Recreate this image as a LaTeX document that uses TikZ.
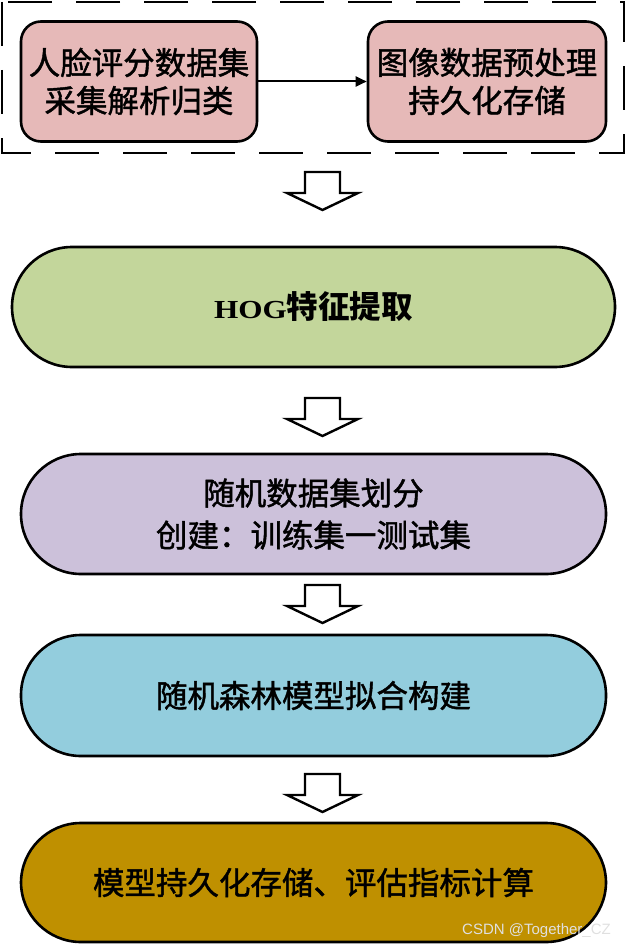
\documentclass[tikz,border=0pt]{standalone}
\usepackage{fontspec}
\setmainfont{Noto Sans CJK SC}
\newfontfamily\cjkmid{Noto Sans CJK SC}[FakeBold=1.4]
\newfontfamily\hogfont{Liberation Serif}[FakeStretch=1.2]
\newfontfamily\markfont{Liberation Sans}
\usetikzlibrary{arrows.meta}

\definecolor{pinkfill}{HTML}{E6B9B8}
\definecolor{greenfill}{HTML}{C3D69B}
\definecolor{purplefill}{HTML}{CCC1DA}
\definecolor{bluefill}{HTML}{93CDDD}
\definecolor{goldfill}{HTML}{BF9000}

\tikzset{
  databox/.style={draw, line width=2.6pt, rounded corners=20pt, fill=pinkfill,
    minimum width=236pt, minimum height=120pt, inner sep=0pt, align=center,
    font=\cjkmid\fontsize{31.5}{38}\selectfont},
  stagebox/.style={draw, line width=2.6pt, rounded corners=60pt,
    minimum width=585pt, minimum height=120pt, inner sep=0pt, align=center,
    font=\cjkmid\fontsize{31.5}{42}\selectfont},
  hollowarrow/.style={draw, line width=2.4pt, fill=white, line join=miter}
}

\begin{document}
\begin{tikzpicture}[x=1pt,y=-1pt]
\useasboundingbox (0,0) rectangle (626,947);

% Dashed frame round the two data steps
\draw [line width=2.6pt, dash pattern=on 44pt off 24pt] (2,2) rectangle (624,153);%

% Data steps
\node [databox] (collect) at (139,81.5) {人脸评分数据集\\采集解析归类};%
\node [databox, minimum width=238pt] (prep) at (487,81.5) {图像数据预处理\\持久化存储};%
\draw [line width=2pt, -{Triangle[length=11pt,width=10pt]}] (collect) -- (prep);%

% Stages
\node [stagebox, fill=greenfill, minimum width=603pt,
  font=\normalfont\bfseries\fontsize{31.5}{42}\selectfont] (hog) at (313.5,307)
  {{\hogfont\fontsize{26}{26}\selectfont HOG}特征提取};%
\node [stagebox, fill=purplefill] (split) at (313.5,514)
  {随机数据集划分\\创建：训练集一测试集};%
\node [stagebox, fill=bluefill, minimum height=121pt] (forest) at (313.5,695.5)
  {随机森林模型拟合构建};%
\node [stagebox, fill=goldfill, minimum height=119pt] (evalm) at (313.5,882.5)
  {模型持久化存储、评估指标计算};%

% Hollow arrows between the stages
\foreach \y in {172,398,585,774}
  \draw [hollowarrow] (305,\y) -- (340,\y) -- (340,\y+21) -- (358,\y+21)
    -- (322.5,\y+38) -- (287,\y+21) -- (305,\y+21) -- cycle;%

% Watermark
\node [anchor=base east, inner sep=0pt, text=white!88!black,
  font=\markfont\fontsize{15}{15}\selectfont] (mark) at (611,934) {CSDN @Together\_CZ};%
\end{tikzpicture}
\end{document}
